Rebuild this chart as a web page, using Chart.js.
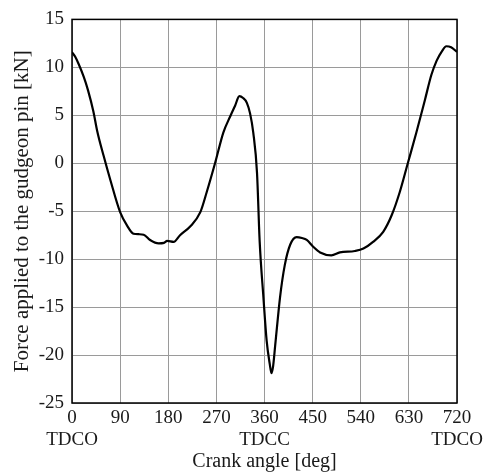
<!DOCTYPE html>
<html>
<head>
<meta charset="utf-8">
<script src="https://cdn.jsdelivr.net/npm/chart.js@4/dist/chart.umd.min.js"></script>
<style>
  html, body { margin: 0; padding: 0; background: #fff; }
  #wrap { width: 485px; height: 474px; }
</style>
</head>
<body>
<div id="wrap"><canvas id="c" width="485" height="474"></canvas></div>
<script>
// Crank angle [deg]
const crankAngle = [0, 6, 12, 22, 30, 40, 47, 59, 72, 90, 103, 115, 125, 134, 146, 162, 172, 178, 190, 202, 221, 240, 252, 268, 283, 296, 305, 313, 320, 327, 333, 339, 346, 351, 358, 364, 370, 373, 376, 380, 389, 398, 408, 420, 430, 439, 451, 464, 485, 501, 529, 545, 563, 582, 598, 613, 628, 644, 660, 672, 682, 692, 700, 709, 720];
// Force applied to the gudgeon pin [kN]
const pinForce = [11.6, 11.1, 10.4, 9.0, 7.6, 5.4, 3.4, 0.8, -1.8, -5.1, -6.5, -7.35, -7.4, -7.45, -8.0, -8.35, -8.3, -8.1, -8.2, -7.5, -6.6, -5.1, -3.0, 0.1, 3.2, 4.9, 6.0, 7.0, 6.8, 6.3, 5.2, 3.2, -1.0, -8.2, -14.0, -18.5, -21.0, -21.9, -21.2, -19.0, -14.0, -10.6, -8.5, -7.7, -7.8, -8.0, -8.7, -9.3, -9.6, -9.3, -9.15, -8.9, -8.2, -7.15, -5.4, -3.0, 0.0, 3.2, 6.6, 9.2, 10.7, 11.7, 12.2, 12.1, 11.6];
// Special tick names on the crank angle axis
const markAngles = [0, 360, 720];
const markNames = ['TDCO', 'TDCC', 'TDCO'];
const angleTicks = [0, 90, 180, 270, 360, 450, 540, 630, 720];

const FONT = "'Liberation Serif', 'DejaVu Serif', serif";
const TXT = '#1a1a1a';

const frame = {
  id: 'frame',
  afterDatasetsDraw(chart) {
    const a = chart.chartArea, ctx = chart.ctx;
    ctx.save();
    ctx.strokeStyle = '#000';
    ctx.lineWidth = 1.5;
    ctx.strokeRect(a.left, a.top, a.right - a.left, a.bottom - a.top);
    ctx.restore();
  }
};

new Chart(document.getElementById('c'), {
  type: 'line',
  data: {
    datasets: [{
      data: crankAngle.map((x, i) => ({ x: x, y: pinForce[i] })),
      borderColor: '#000',
      borderWidth: 2.2,
      pointRadius: 0,
      fill: false,
      cubicInterpolationMode: 'monotone'
    }]
  },
  options: {
    responsive: false,
    animation: false,
    layout: { padding: { top: 15, right: 28, left: 0, bottom: 0 } },
    plugins: { legend: { display: false }, tooltip: { enabled: false } },
    scales: {
      x: {
        type: 'linear',
        min: 0, max: 720,
        afterFit(s) { s.height = 71; s.paddingRight = 0; s.paddingLeft = 0; },
        afterBuildTicks(s) { s.ticks = angleTicks.map(v => ({ value: v })); },
        ticks: {
          padding: 4,
          maxRotation: 0,
          autoSkip: false,
          color: TXT,
          font: { family: FONT, size: 19, lineHeight: 1.15 },
          callback(v) {
            const k = markAngles.indexOf(v);
            return k >= 0 ? [String(v), markNames[k]] : String(v);
          }
        },
        grid: { color: '#9a9a9a', lineWidth: 1, drawTicks: false },
        border: { display: false },
        title: {
          display: true,
          text: 'Crank angle [deg]',
          color: TXT,
          font: { family: FONT, size: 20 },
          padding: { top: 0, bottom: 0 }
        }
      },
      y: {
        min: -25, max: 15,
        afterFit(s) { s.width = 72; },
        ticks: {
          stepSize: 5,
          padding: 8,
          color: TXT,
          font: { family: FONT, size: 19 }
        },
        grid: { color: '#9a9a9a', lineWidth: 1, drawTicks: false },
        border: { display: false },
        title: {
          display: true,
          text: 'Force applied to the gudgeon pin [kN]',
          color: TXT,
          font: { family: FONT, size: 21 },
          padding: { top: 10, bottom: 4 }
        }
      }
    }
  },
  plugins: [frame]
});
</script>
</body>
</html>
